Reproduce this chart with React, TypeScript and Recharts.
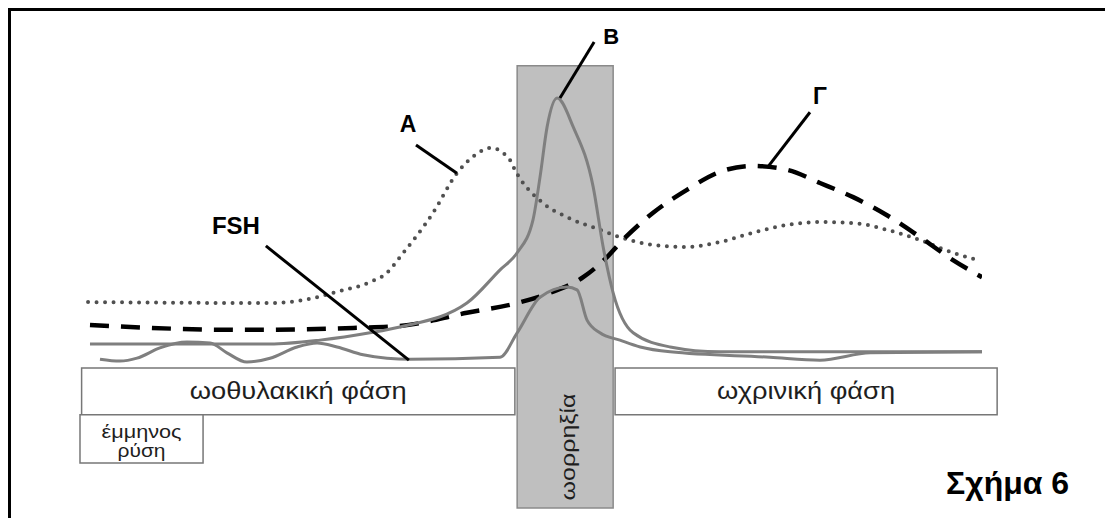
import {
  LineChart,
  Line,
  XAxis,
  YAxis,
  ReferenceArea,
  ReferenceLine,
  ReferenceDot,
} from "recharts";

// Oestrogen (curve A), dotted
const estrogenDays = [0.25, 5.9, 6.92, 7.98, 9.0, 9.53, 9.93, 10.96, 11.7, 12.26, 12.76, 13.35, 13.5, 14.37, 15.12, 16.14, 16.76, 17.79, 18.84, 19.87, 20.89, 21.95, 22.97, 24.0, 25.05, 26.08, 27.1, 27.88];
const estrogenLevels = [42.2, 42.0, 42.6, 44.3, 46.3, 48.2, 51.4, 60.5, 68.6, 72.3, 73.8, 71.3, 69.3, 62.5, 59.6, 57.0, 55.5, 53.9, 53.5, 54.5, 56.4, 58.0, 58.6, 58.4, 57.0, 54.9, 52.3, 50.8];

// LH (curve B), solid gray
const lhDays = [0.31, 3.82, 5.9, 7.45, 9.0, 9.93, 12.01, 13.04, 13.57, 14.06, 14.28, 14.5, 14.81, 15.31, 15.93, 16.24, 16.55, 17.17, 18.32, 19.87, 28.0];
const lhLevels = [33.6, 33.6, 33.6, 34.4, 35.9, 37.1, 42.0, 48.8, 52.3, 59.0, 67.8, 78.1, 84.0, 78.1, 65.8, 53.5, 44.1, 35.9, 33.0, 32.0, 32.0];

// Progesterone (curve Γ), dashed
const progesteroneDays = [0.31, 4.87, 8.48, 9.93, 12.01, 13.57, 14.59, 15.62, 16.36, 16.76, 17.79, 18.84, 19.87, 20.89, 21.95, 22.97, 24.0, 25.05, 26.08, 27.1, 28.0];
const progesteroneLevels = [37.5, 36.5, 36.9, 37.3, 40.0, 42.0, 44.1, 47.3, 51.4, 54.3, 60.5, 65.2, 68.9, 70.1, 69.3, 66.6, 63.7, 60.0, 55.5, 50.8, 47.3];

// FSH, solid gray
const fshDays = [0.62, 1.24, 1.77, 2.48, 3.32, 4.04, 4.56, 5.18, 5.9, 6.74, 7.36, 7.98, 8.79, 9.53, 10.25, 13.04, 13.57, 14.28, 15.12, 15.43, 15.74, 16.14, 16.76, 17.39, 18.32, 21.42, 22.97, 24.53, 28.0];
const fshLevels = [30.5, 30.1, 30.7, 32.8, 34.0, 33.8, 31.8, 29.9, 30.7, 33.0, 33.8, 33.0, 31.4, 30.7, 30.5, 30.9, 35.9, 43.2, 45.3, 44.7, 38.5, 35.9, 34.4, 33.0, 32.0, 30.9, 30.3, 31.8, 32.0];

// phase bands: [start day, end day]
const menses = [0, 3.82];
const follicular = [0.05, 13.5];
const ovulation = [13.57, 16.55];
const luteal = [16.61, 28.47];

const toPoints = (days: number[], levels: number[]) =>
  days.map((day, i) => ({ day, level: levels[i] }));

const FONT = '"Liberation Sans", Arial, sans-serif';
const GRAY = "#7f7f7f";
const INK = "#1e1e1e";

// centred box text, stretched to the width it has in the scan
const BoxText = ({ viewBox, text, size, length }: any) => (
  <text
    x={viewBox.x + viewBox.width / 2}
    y={viewBox.y + viewBox.height / 2}
    textAnchor="middle"
    dominantBaseline="central"
    fontFamily={FONT}
    fontSize={size}
    fill={INK}
    textLength={length}
    lengthAdjust="spacingAndGlyphs"
  >
    {text}
  </text>
);

const MensesLabel = ({ viewBox }: any) => {
  const cx = viewBox.x + viewBox.width / 2;
  const cy = viewBox.y + viewBox.height / 2;
  return (
    <g fontFamily={FONT} fontSize={18} fill={INK}>
      <text x={cx} y={cy - 1} textAnchor="middle" textLength={80} lengthAdjust="spacingAndGlyphs">
        έμμηνος
      </text>
      <text x={cx} y={cy + 18} textAnchor="middle" textLength={48} lengthAdjust="spacingAndGlyphs">
        ρύση
      </text>
    </g>
  );
};

const OvulationLabel = ({ viewBox }: any) => {
  const cx = viewBox.x + viewBox.width / 2 + 3;
  const cy = viewBox.y + viewBox.height - 61;
  return (
    <text
      transform={`translate(${cx},${cy}) rotate(-90)`}
      textAnchor="middle"
      dominantBaseline="central"
      fontFamily={FONT}
      fontSize={20}
      fill={INK}
      textLength={107}
      lengthAdjust="spacingAndGlyphs"
    >
      ωορρηξία
    </text>
  );
};

const tag = (text: string, size: number) => (props: any) => (
  <text
    x={props.cx}
    y={props.cy}
    textAnchor="middle"
    dominantBaseline="central"
    fontFamily={FONT}
    fontWeight="bold"
    fontSize={size}
    fill="#000"
  >
    {text}
  </text>
);

export default function App() {
  return (
    <div
      style={{
        position: "absolute",
        left: 0,
        top: 0,
        width: 1105,
        height: 518,
        background: "#fff",
        overflow: "hidden",
      }}
    >
      {/* frame (cropped on right and bottom) */}
      <div
        style={{
          position: "absolute",
          left: 8,
          top: 8,
          width: 1200,
          height: 600,
          borderTop: "3px solid #000",
          borderLeft: "3px solid #000",
        }}
      />
      <LineChart
        width={1105}
        height={518}
        margin={{ top: 20, right: 123, bottom: 10, left: 80 }}
        style={{ position: "absolute", left: 0, top: 0 }}
      >
        <XAxis dataKey="day" type="number" domain={[0, 28]} allowDataOverflow hide />
        <YAxis type="number" domain={[0, 100]} allowDataOverflow hide />

        <ReferenceArea
          x1={ovulation[0]}
          x2={ovulation[1]}
          y1={0}
          y2={90.6}
          fill="#bfbfbf"
          fillOpacity={1}
          stroke="#8a8a8a"
          strokeWidth={1.5}
          label={<OvulationLabel />}
        />
        <ReferenceArea
          x1={follicular[0]}
          x2={follicular[1]}
          y1={19.1}
          y2={28.7}
          fill="#fff"
          fillOpacity={1}
          stroke="#777"
          strokeWidth={1.5}
          label={<BoxText text="ωοθυλακική φάση" size={23} length={217} />}
        />
        <ReferenceArea
          x1={menses[0]}
          x2={menses[1]}
          y1={9.2}
          y2={19.1}
          fill="#fff"
          fillOpacity={1}
          stroke="#777"
          strokeWidth={1.5}
          label={<MensesLabel />}
        />
        <ReferenceArea
          x1={luteal[0]}
          x2={luteal[1]}
          y1={19.1}
          y2={28.7}
          ifOverflow="visible"
          fill="#fff"
          fillOpacity={1}
          stroke="#777"
          strokeWidth={1.5}
          label={<BoxText text="ωχρινική φάση" size={23} length={178} />}
        />

        <Line
          data={toPoints(estrogenDays, estrogenLevels)}
          dataKey="level"
          type="monotone"
          stroke="#505050"
          strokeWidth={4}
          strokeDasharray="0 8.5"
          strokeLinecap="round"
          dot={false}
          isAnimationActive={false}
        />
        <Line
          data={toPoints(progesteroneDays, progesteroneLevels)}
          dataKey="level"
          type="monotone"
          stroke="#000"
          strokeWidth={4.5}
          strokeDasharray="19 12"
          dot={false}
          isAnimationActive={false}
        />
        <Line
          data={toPoints(lhDays, lhLevels)}
          dataKey="level"
          type="monotone"
          stroke={GRAY}
          strokeWidth={3}
          dot={false}
          isAnimationActive={false}
        />
        <Line
          data={toPoints(fshDays, fshLevels)}
          dataKey="level"
          type="monotone"
          stroke={GRAY}
          strokeWidth={3}
          dot={false}
          isAnimationActive={false}
        />

        {/* leader lines */}
        <ReferenceLine segment={[{ x: 10.43, y: 74.4 }, { x: 11.7, y: 68.6 }]} stroke="#000" strokeWidth={3} />
        <ReferenceLine segment={[{ x: 15.96, y: 95.5 }, { x: 14.9, y: 84.0 }]} stroke="#000" strokeWidth={3} />
        <ReferenceLine segment={[{ x: 22.66, y: 81.1 }, { x: 21.33, y: 69.7 }]} stroke="#000" strokeWidth={3} />
        <ReferenceLine segment={[{ x: 5.77, y: 53.7 }, { x: 10.21, y: 30.3 }]} stroke="#000" strokeWidth={3} />

        <ReferenceDot x={10.18} y={78.7} r={0} shape={tag("A", 23)} />
        <ReferenceDot x={16.49} y={96.7} ifOverflow="visible" r={0} shape={tag("B", 22)} />
        <ReferenceDot x={22.97} y={84.4} r={0} shape={tag("Γ", 23)} />
        <ReferenceDot x={4.84} y={57.8} r={0} shape={tag("FSH", 24)} />
      </LineChart>
      <div
        style={{
          position: "absolute",
          left: 946,
          top: 465,
          fontFamily: FONT,
          fontWeight: "bold",
          fontSize: 32,
          color: "#000",
          whiteSpace: "nowrap",
        }}
      >
        Σχήμα 6
      </div>
    </div>
  );
}
